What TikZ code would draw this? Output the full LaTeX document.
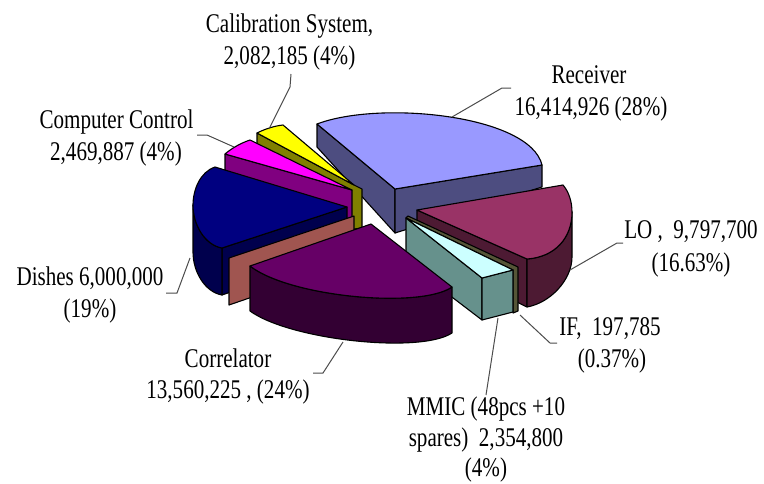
\documentclass[tikz,border=0pt]{standalone}
\usepackage{fontspec}
\setmainfont{Liberation Serif}[FakeStretch=0.78]

% slice colours: top face / side faces
\definecolor{recTop}{RGB}{153,153,255}
\definecolor{recSide}{RGB}{77,77,128}
\definecolor{loTop}{RGB}{153,51,102}
\definecolor{loSide}{RGB}{77,26,51}
\definecolor{ifSide}{RGB}{85,85,55}
\definecolor{mmTop}{RGB}{204,255,255}
\definecolor{mmSide}{RGB}{102,145,140}
\definecolor{corTop}{RGB}{102,0,102}
\definecolor{corSide}{RGB}{51,0,51}
\definecolor{disTop}{RGB}{0,0,128}
\definecolor{disSide}{RGB}{0,0,77}
\definecolor{brn}{RGB}{160,85,80}
\definecolor{magTop}{RGB}{255,0,255}
\definecolor{magSide}{RGB}{128,0,128}
\definecolor{yelTop}{RGB}{255,255,0}
\definecolor{yelSide}{RGB}{128,128,0}

\begin{document}
\begin{tikzpicture}[x=1pt,y=-1pt,
  face/.style={draw=black,line width=1.1pt,line join=round},
  lbl/.style={anchor=base,inner sep=0pt,font=\fontsize{27}{32}\selectfont},
  leader/.style={draw=black!70,line width=1pt}]
\fill[white] (0,0) rectangle (764,483);
\useasboundingbox (0,0) rectangle (764,483);

% ---------------- Receiver
\coordinate (rA) at (317,124); \coordinate (rB) at (395,189); \coordinate (rC) at (542,165);
\coordinate (rAb) at (317,147); \coordinate (rBb) at (395,233); \coordinate (rCb) at (542,187);
\path[face,fill=recSide] (rA) -- (rB) -- (rBb) -- (rAb) -- cycle;
\path[face,fill=recSide] (rB) -- (rC) -- (rCb) -- (rBb) -- cycle;
\path[face,fill=recTop] (rA) -- (rB) -- (rC) .. controls (530,115) and (380,100) .. (rA) -- cycle;

% ---------------- Calibration System
\coordinate (yA) at (257,133); \coordinate (yB) at (283,125); \coordinate (yO) at (354,185);
\coordinate (yOr) at (362,189); \coordinate (yOrb) at (362,228); \coordinate (yOb) at (354,229);
\coordinate (yAb) at (257,172);
\path[face,fill=yelSide] (yA) -- (yO) -- (yOr) -- (yOrb) -- (yOb) -- (yAb) -- cycle;
\path[face,fill=yelTop] (yA) .. controls (265,129) and (274,126) .. (yB) -- (yO) -- cycle;

% ---------------- Computer Control
\coordinate (mA) at (225,154); \coordinate (mB) at (250,140); \coordinate (mO) at (352,190);
\coordinate (mOb) at (352,233); \coordinate (mAb) at (225,196);
\path[face,fill=magSide] (mA) -- (mO) -- (mOb) -- (mAb) -- cycle;
\path[face,fill=magTop] (mA) .. controls (232,148) and (241,143) .. (mB) -- (mO) -- cycle;

% ---------------- Dishes
\coordinate (dB) at (215,167); \coordinate (dS) at (193,205); \coordinate (dF) at (222,248);
\coordinate (dO) at (347,207); \coordinate (dSb) at (193,252); \coordinate (dFb) at (222,295);
\coordinate (dOb) at (347,252);
\path[face,fill=disSide] (dO) -- (dF) -- (dFb) -- (dOb) -- cycle;
\path[face,fill=disSide] (dS) .. controls (193,225) and (205,245) .. (dF) -- (dFb)
  .. controls (205,292) and (193,272) .. (dSb) -- cycle;
\path[face,fill=disTop] (dO) -- (dB) .. controls (200,172) and (193,190) .. (dS)
  .. controls (193,225) and (205,245) .. (dF) -- cycle;

% ---------------- thin slice between Dishes and Correlator
\coordinate (bA) at (229,258); \coordinate (bO) at (354,216);
\coordinate (bOb) at (354,262); \coordinate (bAb) at (229,305);
\path[face,fill=brn] (bA) -- (bO) -- (bOb) -- (bAb) -- cycle;

% ---------------- LO
\coordinate (lP) at (417,210); \coordinate (lQ) at (563,185); \coordinate (lS) at (572,212);
\coordinate (lR) at (527,259); \coordinate (lPb) at (417,253); \coordinate (lRb) at (527,307);
\coordinate (lSb) at (572,257);
\path[face,fill=loSide] (lP) -- (lR) -- (lRb) -- (lPb) -- cycle;
\path[face,fill=loSide] (lR) .. controls (555,257) and (572,238) .. (lS) -- (lSb)
  .. controls (572,280) and (550,303) .. (lRb) -- cycle;
\path[face,fill=loTop] (lP) -- (lQ) .. controls (569,192) and (572,202) .. (lS)
  .. controls (572,238) and (555,257) .. (lR) -- cycle;

% ---------------- IF (a sliver behind the MMIC slice)
\coordinate (mmO) at (406,218); \coordinate (mmB) at (513,270); \coordinate (mmF) at (482,278);
\coordinate (mmFb) at (482,320); \coordinate (mmBb) at (513,312); \coordinate (mmOb) at (406,262);
\coordinate (iO) at (408,216); \coordinate (iB) at (518,267);
\coordinate (iBb) at (518,311); \coordinate (iMb) at (513,313);
\path[face,fill=ifSide] (mmO) -- (iO) -- (iB) -- (iBb) -- (iMb) -- (mmB) -- cycle;

% ---------------- MMIC
\path[face,fill=mmSide] (mmO) -- (mmF) -- (mmFb) -- (mmOb) -- cycle;
\path[face,fill=mmSide] (mmF) -- (mmB) -- (mmBb) -- (mmFb) -- cycle;
\path[face,fill=mmTop] (mmO) -- (mmB) -- (mmF) -- cycle;

% ---------------- Correlator
\coordinate (kO) at (371,224); \coordinate (kL) at (250,266); \coordinate (kR) at (452,287);
\coordinate (kLb) at (250,311); \coordinate (kRb) at (452,333);
\path[face,fill=corSide] (kL) .. controls (290,297) and (420,309) .. (kR) -- (kRb)
  .. controls (420,354) and (290,340) .. (kLb) -- cycle;
\path[face,fill=corTop] (kO) -- (kL) .. controls (290,297) and (420,309) .. (kR) -- cycle;

% ---------------- labels
\node[lbl] (calA) at (289.5,32) {Calibration System,};
\node[lbl] (calB) at (289.5,64) {2,082,185 (4\%)};
\node[lbl] (recA) at (589,83) {Receiver};
\node[lbl] (recB) at (591,115) {16,414,926 (28\%)};
\node[lbl] (ccA) at (116.5,128) {Computer Control};
\node[lbl] (ccB) at (116,160) {2,469,887 (4\%)};
\node[lbl] (loA) at (691,238) {LO ,~~9,797,700};
\node[lbl] (loB) at (691,271) {(16.63\%)};
\node[lbl] (disA) at (90,285) {Dishes 6,000,000};
\node[lbl] (disB) at (90,317) {(19\%)};
\node[lbl] (ifA) at (610,335) {IF,~~197,785};
\node[lbl] (ifB) at (612,367) {(0.37\%)};
\node[lbl] (corA) at (228,367) {Correlator};
\node[lbl] (corB) at (228,398) {13,560,225 , (24\%)};
\node[lbl] (mmA) at (486,415) {MMIC (48pcs +10};
\node[lbl] (mmB2) at (486,446) {spares)~~2,354,800};
\node[lbl] (mmC) at (486,476) {(4\%)};

% ---------------- leader lines
\coordinate (calE) at (291,74); \coordinate (calK) at (290,87); \coordinate (calT) at (269,129);
\draw[leader] (calE) -- (calK) -- (calT);
\coordinate (recE) at (511,88); \coordinate (recK) at (502,88); \coordinate (recT) at (452,117);
\draw[leader] (recE) -- (recK) -- (recT);
\coordinate (ccE) at (197,135); \coordinate (ccK) at (207,135); \coordinate (ccT) at (234,147);
\draw[leader] (ccE) -- (ccK) -- (ccT);
\coordinate (loE) at (623,243); \coordinate (loK) at (617,243); \coordinate (loT) at (570,270);
\draw[leader] (loE) -- (loK) -- (loT);
\coordinate (disE) at (166,293); \coordinate (disK) at (177,293); \coordinate (disT) at (190,258);
\draw[leader] (disE) -- (disK) -- (disT);
\coordinate (ifE) at (557,343); \coordinate (ifK) at (550,343); \coordinate (ifT) at (520,315);
\draw[leader] (ifE) -- (ifK) -- (ifT);
\coordinate (corE) at (313,373); \coordinate (corK) at (323,373); \coordinate (corT) at (343,342);
\draw[leader] (corE) -- (corK) -- (corT);
\coordinate (mmE) at (486,395); \coordinate (mmT) at (498,318);
\draw[leader] (mmE) -- (mmT);
\end{tikzpicture}
\end{document}
